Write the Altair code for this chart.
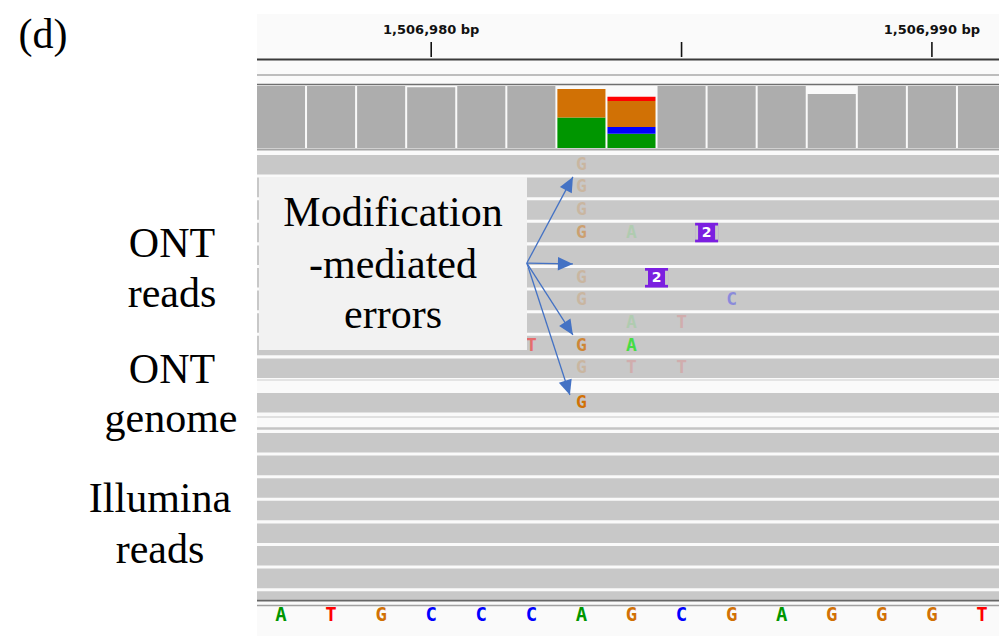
import math
import altair as alt
import pandas as pd

# ---------------- data ----------------
POSITIONS = list(range(1506977, 1506992))
REF_SEQ = list("ATGCCCAGCGAGGGT")

RULER_TICKS = [1506980, 1506985, 1506990]
RULER_LABELS = ["1,506,980 bp", "", "1,506,990 bp"]

# coverage (reference-coloured part), per position
COV_REF = [20, 20, 20, 19.6, 20, 20, 0, 0, 20, 20, 20, 17.4, 20, 20, 20]
# allele-coloured coverage at the two mismatch columns
COV_ALLELE_POS = [1506983, 1506983, 1506984, 1506984, 1506984, 1506984]
COV_ALLELE_BASE = ["A", "G", "A", "C", "G", "T"]
COV_ALLELE_COUNT = [9.8, 9.2, 4.6, 2.2, 8.4, 1.3]

# ONT reads (10 rows, all spanning the window)
ONT_ROWS = list(range(10))
ONT_START = [1506950] * 10
ONT_END = [1507020] * 10
# mismatches in ONT reads
MM_ROW = [0, 1, 2, 3, 3, 5, 6, 6, 7, 7, 8, 8, 8, 9, 9, 9]
MM_POS = [1506983, 1506983, 1506983, 1506983, 1506984, 1506983, 1506983, 1506986,
          1506984, 1506985, 1506982, 1506983, 1506984, 1506983, 1506984, 1506985]
MM_BASE = ["G", "G", "G", "G", "A", "G", "G", "C", "A", "T", "T", "G", "A", "G", "T", "T"]
MM_QUAL = [8, 8, 8, 18, 6, 8, 8, 14, 6, 6, 21, 30, 34, 8, 6, 6]
# insertions in ONT reads
INS_ROW = [3, 5]
INS_POS = [1506985.5, 1506984.5]
INS_LEN = ["2", "2"]

# ONT genome (1 row)
GEN_ROWS = [0]
GEN_START = [1506950]
GEN_END = [1507020]
GEN_MM_POS = [1506983]
GEN_MM_BASE = ["G"]
GEN_MM_QUAL = [40]

# Illumina reads (8 rows, last partly hidden)
ILL_ROWS = list(range(8))
ILL_START = [1506950] * 8
ILL_END = [1507020] * 8

# annotation arrows (genome position, ONT row units)
ARROW_TAIL_POS = 1506981.91
ARROW_TAIL_ROW = 4.78
ARROW_TIP_POS = [1506982.83, 1506982.83, 1506982.83, 1506982.77]
ARROW_TIP_ROW = [0.97, 4.82, 7.96, 10.62]

# ---------------- layout ----------------
W, H = 999, 636
PANEL_LEFT = 257
PX_PER_BP = 50.07
FIRST_CENTER_PX = 281
X_LO = POSITIONS[0] - FIRST_CENTER_PX / PX_PER_BP
X_HI = X_LO + W / PX_PER_BP
XS = alt.Scale(domain=[X_LO, X_HI], range=[0, W], zero=False, nice=False)

ROW_PITCH = 22.6
ROW_FRAC = 0.865
ONT_TOP = 155
GEN_TOP = 393
ILL_TOP = 433

ONT_YS = alt.Scale(domain=[0, 10], range=[ONT_TOP, ONT_TOP + 10 * ROW_PITCH], zero=False, nice=False)
GEN_YS = alt.Scale(domain=[0, 1], range=[GEN_TOP, GEN_TOP + ROW_PITCH], zero=False, nice=False)
ILL_YS = alt.Scale(domain=[0, 8], range=[ILL_TOP, ILL_TOP + 8 * ROW_PITCH], zero=False, nice=False)
COV_YS = alt.Scale(domain=[0, 20], range=[148, 86], zero=False, nice=False)

SEQ_COLORS = alt.Scale(domain=["ref", "A", "C", "G", "T"],
                       range=["#adadad", "#009600", "#0000ff", "#d17105", "#ff0000"])
READ_COLORS = alt.Scale(domain=["A", "C", "G", "T"],
                        range=["#2fe02f", "#1a1aff", "#d17105", "#ff1a1a"])
QUAL_OP = alt.Scale(domain=[0, 40], range=[0, 1])

LETTER_FONT = "DejaVu Sans Mono"
SERIF = "Liberation Serif"


def X(f):
    return alt.X(f, type="quantitative", scale=XS, axis=None)


def one():
    return alt.Chart(pd.DataFrame({"k": [0]}))


def hline(y, color, width):
    return one().mark_rule(color=color, strokeWidth=width).encode(
        x=alt.value(PANEL_LEFT), x2=alt.value(W), y=alt.value(y))


layers = []

# panel background
layers.append(one().mark_rect(color="#fafafa").encode(
    x=alt.value(PANEL_LEFT), x2=alt.value(W), y=alt.value(14), y2=alt.value(H)))

# ---------------- ruler ----------------
ruler = pd.DataFrame({"pos": RULER_TICKS, "label": RULER_LABELS})
layers.append(alt.Chart(ruler).mark_rule(color="#111", strokeWidth=1.6).encode(
    x=X("pos"), y=alt.value(42), y2=alt.value(57)))
layers.append(alt.Chart(ruler).transform_filter("datum.label != ''").mark_text(
    font="DejaVu Sans", fontWeight="bold", fontSize=13, color="#111", baseline="middle").encode(
    x=X("pos"), y=alt.value(30), text="label:N"))
layers.append(hline(59.5, "#3a3a3a", 2))
layers.append(hline(75, "#bdbdbd", 2))
layers.append(hline(84.5, "#6f6f6f", 1.6))

# ---------------- coverage ----------------
cov_ref = pd.DataFrame({"pos": POSITIONS, "base": ["ref"] * len(POSITIONS), "count": COV_REF,
                        "order": [0] * len(POSITIONS)})
base_order = {"A": 1, "C": 2, "G": 3, "T": 4}
cov_all = pd.DataFrame({"pos": COV_ALLELE_POS, "base": COV_ALLELE_BASE, "count": COV_ALLELE_COUNT,
                        "order": [base_order[b] for b in COV_ALLELE_BASE]})
cov = pd.concat([cov_ref, cov_all], ignore_index=True)
layers.append(alt.Chart(cov).transform_filter("datum.count > 0").transform_stack(
    stack="count", groupby=["pos"], as_=["c0", "c1"], sort=[alt.SortField("order")]
).transform_calculate(x0="datum.pos - 0.48", x1="datum.pos + 0.48").mark_rect(clip=True).encode(
    x=X("x0"), x2="x1:Q",
    y=alt.Y("c0:Q", scale=COV_YS, axis=None), y2="c1:Q",
    color=alt.Color("base:N", scale=SEQ_COLORS, legend=None)))
layers.append(hline(149.5, "#a5a5a5", 2.2))


def read_rows(rows, starts, ends, ys, field):
    df = pd.DataFrame({field: rows, "start": starts, "end": ends})
    return alt.Chart(df).transform_calculate(r2=f"datum.{field} + {ROW_FRAC}").mark_rect(
        color="#c8c8c8", clip=True).encode(
        x=X("start"), x2="end:Q",
        y=alt.Y(f"{field}:Q", scale=ys, axis=None), y2="r2:Q")


def letters(rows, pos, bases, qual, ys, field, size=18):
    df = pd.DataFrame({field: rows, "pos": pos, "base": bases, "q": qual})
    return alt.Chart(df).transform_calculate(rc=f"datum.{field} + {ROW_FRAC / 2}").mark_text(
        font=LETTER_FONT, fontSize=size, fontWeight="bold", baseline="middle", clip=True).encode(
        x=X("pos"), y=alt.Y("rc:Q", scale=ys, axis=None), text="base:N",
        color=alt.Color("base:N", scale=READ_COLORS, legend=None),
        opacity=alt.Opacity("q:Q", scale=QUAL_OP, legend=None))


# ---------------- ONT reads ----------------
layers.append(read_rows(ONT_ROWS, ONT_START, ONT_END, ONT_YS, "orow"))
layers.append(letters(MM_ROW, MM_POS, MM_BASE, MM_QUAL, ONT_YS, "orow"))
ins = pd.DataFrame({"orow": INS_ROW, "pos": INS_POS, "len": INS_LEN})
layers.append(alt.Chart(ins).transform_calculate(
    x0="datum.pos - 0.23", x1="datum.pos + 0.23", r2=f"datum.orow + {ROW_FRAC}").mark_rect(
    color="#7b1fe0").encode(
    x=X("x0"), x2="x1:Q", y=alt.Y("orow:Q", scale=ONT_YS, axis=None), y2="r2:Q"))
for side in ("-", "+"):
    a, b = ("0.23", "0.17") if side == "-" else ("-0.17", "-0.23")
    layers.append(alt.Chart(ins).transform_calculate(
        x0=f"datum.pos - {a}", x1=f"datum.pos - {b}", r0="datum.orow + 0.12",
        r2=f"datum.orow + {ROW_FRAC - 0.12}").mark_rect(color="#c8c8c8").encode(
        x=X("x0"), x2="x1:Q", y=alt.Y("r0:Q", scale=ONT_YS, axis=None), y2="r2:Q"))
layers.append(alt.Chart(ins).transform_calculate(rc=f"datum.orow + {ROW_FRAC / 2}").mark_text(
    font="DejaVu Sans", fontWeight="bold", fontSize=14, color="white", baseline="middle").encode(
    x=X("pos"), y=alt.Y("rc:Q", scale=ONT_YS, axis=None), text="len:N"))
layers.append(hline(380, "#dcdcdc", 1.5))

# ---------------- ONT genome ----------------
layers.append(read_rows(GEN_ROWS, GEN_START, GEN_END, GEN_YS, "grow"))
layers.append(letters(GEN_ROWS, GEN_MM_POS, GEN_MM_BASE, GEN_MM_QUAL, GEN_YS, "grow"))
layers.append(hline(417, "#e0e0e0", 2))
layers.append(hline(428.5, "#c4c4c4", 2.5))

# ---------------- Illumina ----------------
layers.append(read_rows(ILL_ROWS, ILL_START, ILL_END, ILL_YS, "irow"))

# ---------------- sequence track ----------------
layers.append(one().mark_rect(color="#fafafa").encode(
    x=alt.value(PANEL_LEFT), x2=alt.value(W), y=alt.value(599), y2=alt.value(H)))
layers.append(hline(600.5, "#666", 2))
layers.append(hline(605.5, "#a0a0a0", 1.5))
seq = pd.DataFrame({"pos": POSITIONS, "base": REF_SEQ})
layers.append(alt.Chart(seq).mark_text(
    font=LETTER_FONT, fontSize=19, fontWeight="bold", baseline="middle", clip=True).encode(
    x=X("pos"), y=alt.value(615), text="base:N",
    color=alt.Color("base:N", scale=SEQ_COLORS, legend=None)))

# white margin left of the IGV panel
layers.append(one().mark_rect(color="white").encode(
    x=alt.value(0), x2=alt.value(PANEL_LEFT), y=alt.value(0), y2=alt.value(H)))

# ---------------- annotation ----------------
layers.append(one().mark_rect(color="#f2f2f2").encode(
    x=alt.value(259), x2=alt.value(527), y=alt.value(177), y2=alt.value(350)))
for txt, yy in [("Modification", 226), ("-mediated", 278), ("errors", 328)]:
    layers.append(one().mark_text(font=SERIF, fontSize=42, color="black", align="center",
                                  baseline="alphabetic").encode(
        x=alt.value(393), y=alt.value(yy), text=alt.value(txt)))

angles = []
for tp, tr in zip(ARROW_TIP_POS, ARROW_TIP_ROW):
    dx = (tp - ARROW_TAIL_POS) * PX_PER_BP
    dy = (tr - ARROW_TAIL_ROW) * ROW_PITCH
    angles.append(math.degrees(math.atan2(dx, -dy)) % 360)
arrows = pd.DataFrame({"tpos": ARROW_TIP_POS, "trow": ARROW_TIP_ROW,
                       "spos": [ARROW_TAIL_POS] * 4, "srow": [ARROW_TAIL_ROW] * 4,
                       "ang": angles})
layers.append(alt.Chart(arrows).mark_rule(color="#4472c4", strokeWidth=1.3).encode(
    x=X("spos"), x2="tpos:Q", y=alt.Y("srow:Q", scale=ONT_YS, axis=None), y2="trow:Q"))
layers.append(alt.Chart(arrows).mark_point(
    shape="M0,0 L0.45,1 L-0.45,1 Z", filled=True, color="#4472c4", opacity=1, size=900).encode(
    x=X("tpos"), y=alt.Y("trow:Q", scale=ONT_YS, axis=None),
    angle=alt.Angle("ang:Q", scale=None)))

# ---------------- left labels ----------------
for txt, xx, yy in [("(d)", 43, 48), ("ONT", 172, 257), ("reads", 172, 307),
                    ("ONT", 172, 383), ("genome", 171, 432),
                    ("Illumina", 160, 512), ("reads", 160, 563)]:
    layers.append(one().mark_text(font=SERIF, fontSize=42, color="black", align="center",
                                  baseline="alphabetic").encode(
        x=alt.value(xx), y=alt.value(yy), text=alt.value(txt)))

chart = alt.layer(*layers).resolve_scale(
    y="independent", color="independent", opacity="independent"
).properties(
    width=W, height=H, padding=0, autosize=alt.AutoSizeParams(type="none"), background="white"
).configure_view(stroke=None)

chart.save("out.html", embed_options={"renderer": "svg", "actions": False})
